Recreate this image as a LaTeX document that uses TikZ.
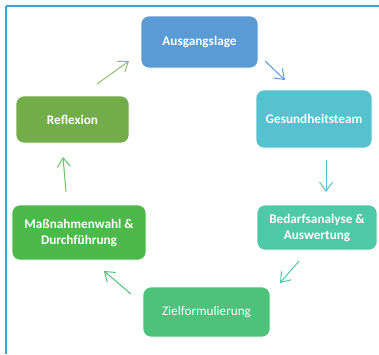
\documentclass[tikz,border=0pt]{standalone}
\usepackage{fontspec}
\setmainfont{Carlito}
\usetikzlibrary{arrows.meta}
\definecolor{cA}{HTML}{5B9BD5}
\definecolor{cG}{HTML}{56C1CF}
\definecolor{cB}{HTML}{4FC8A5}
\definecolor{cZ}{HTML}{4CC27A}
\definecolor{cM}{HTML}{4BBA4B}
\definecolor{cR}{HTML}{72AD4A}
\definecolor{cF}{HTML}{3CA6CC}
\begin{document}
\begin{tikzpicture}[x=1pt,y=-1pt,
  stepbox/.style={rounded corners=8pt, text=white, font=\fontsize{13.2}{16}\selectfont\bfseries, align=center, inner sep=0pt, draw=white, line width=0.6pt},
  flow/.style={line width=1pt, -{Straight Barb[length=9pt,width=13pt,line width=1pt]}}]
\useasboundingbox (0,0) rectangle (379,354);
\fill[white] (0,0) rectangle (379,354);
\draw[cF, line width=2pt] (6,6) -- (379,6);
\draw[cF, line width=2pt] (6,6) -- (6,354);
\node[stepbox, fill=cA, minimum width=117pt, minimum height=52pt] (A) at (199.5,42) {Ausgangslage};
\node[stepbox, fill=cG, minimum width=116pt, minimum height=58pt] (G) at (314,119) {Gesundheitsteam};
\node[stepbox, fill=cB, minimum width=120pt, minimum height=45pt] (B) at (317,227.5) {Bedarfsanalyse \&\\Auswertung};
\node[stepbox, fill=cZ, minimum width=127pt, minimum height=50pt, font=\fontsize{13.2}{16}\selectfont] (Z) at (206.5,312) {Zielformulierung};
\node[stepbox, fill=cM, minimum width=134pt, minimum height=55pt] (M) at (79,232.5) {Maßnahmenwahl \&\\Durchführung};
\node[stepbox, fill=cR, minimum width=113pt, minimum height=47pt] (R) at (72.5,119.5) {Reflexion};
\coordinate (r1) at (97,84); \coordinate (r2) at (129,61);
\coordinate (a1) at (265,61); \coordinate (a2) at (285,80);
\coordinate (g1) at (326,160); \coordinate (g2) at (326,192);
\coordinate (b1) at (299,261); \coordinate (b2) at (280,283);
\coordinate (z1) at (131,294); \coordinate (z2) at (104,271);
\coordinate (m1) at (66,192); \coordinate (m2) at (63,157);
\draw[flow, cR!80!white] (r1) -- (r2);
\draw[flow, cA] (a1) -- (a2);
\draw[flow, cG] (g1) -- (g2);
\draw[flow, cB] (b1) -- (b2);
\draw[flow, cZ] (z1) -- (z2);
\draw[flow, cM!85!white] (m1) -- (m2);
\end{tikzpicture}
\end{document}
